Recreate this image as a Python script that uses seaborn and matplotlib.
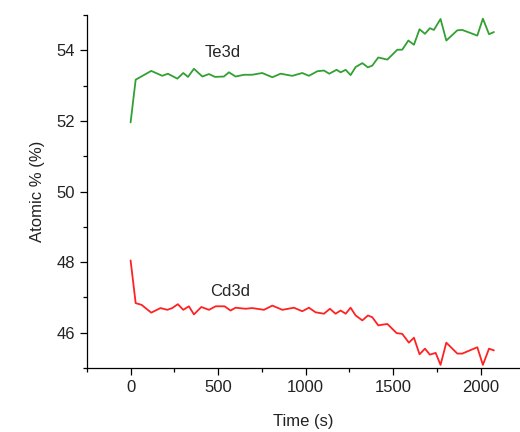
import pandas as pd
import numpy as np
import matplotlib
matplotlib.use('Agg')
import matplotlib.pyplot as plt
from matplotlib.ticker import MultipleLocator
import seaborn as sns

sns.set_style('ticks')
plt.rcParams['font.family'] = ['Liberation Sans', 'DejaVu Sans']

# 시간 (s)
time_te = [0, 29, 118, 181, 213, 267, 301, 328, 362, 410, 448, 482, 533, 562, 600,
           648, 695, 752, 810, 857, 924, 981, 1019, 1067, 1105, 1135, 1177, 1200,
           1229, 1257, 1286, 1324, 1356, 1381, 1415, 1467, 1524, 1552, 1587, 1619,
           1651, 1682, 1710, 1733, 1771, 1804, 1867, 1895, 1981, 2013, 2048, 2076]
te3d = [51.96, 53.17, 53.42, 53.28, 53.34, 53.20, 53.36, 53.25, 53.48, 53.26, 53.33,
        53.25, 53.26, 53.38, 53.26, 53.31, 53.31, 53.36, 53.24, 53.34, 53.28, 53.36,
        53.28, 53.41, 53.43, 53.34, 53.45, 53.38, 53.45, 53.30, 53.53, 53.64, 53.52,
        53.57, 53.80, 53.74, 54.02, 54.02, 54.28, 54.16, 54.60, 54.47, 54.63, 54.58,
        54.89, 54.28, 54.57, 54.58, 54.42, 54.90, 54.46, 54.52]

time_cd = [0, 29, 63, 118, 171, 210, 238, 270, 301, 333, 362, 404, 448, 486, 537,
           571, 600, 657, 695, 762, 810, 867, 933, 981, 1019, 1057, 1105, 1139, 1171,
           1200, 1229, 1257, 1286, 1324, 1356, 1381, 1415, 1467, 1520, 1552, 1590,
           1619, 1651, 1682, 1710, 1743, 1771, 1804, 1867, 1895, 1981, 2013, 2048, 2076]
cd3d = [48.05, 46.84, 46.79, 46.57, 46.70, 46.65, 46.70, 46.81, 46.65, 46.75, 46.52,
        46.73, 46.65, 46.75, 46.75, 46.63, 46.71, 46.68, 46.70, 46.65, 46.77, 46.65,
        46.71, 46.61, 46.71, 46.58, 46.54, 46.68, 46.54, 46.63, 46.54, 46.71, 46.49,
        46.35, 46.49, 46.44, 46.21, 46.25, 45.99, 45.97, 45.72, 45.86, 45.39, 45.55,
        45.38, 45.43, 45.09, 45.72, 45.41, 45.41, 45.59, 45.09, 45.55, 45.50]

df = pd.concat([
    pd.DataFrame({'time': time_te, 'atomic': te3d, 'element': 'Te3d'}),
    pd.DataFrame({'time': time_cd, 'atomic': cd3d, 'element': 'Cd3d'}),
], ignore_index=True)

fig = plt.figure(figsize=(5.2, 4.32), dpi=100)
ax = fig.add_axes([0.167, 0.148, 0.833, 0.817])

sns.lineplot(data=df, x='time', y='atomic', hue='element', sort=False,
             palette={'Te3d': '#32a032', 'Cd3d': '#ff2222'},
             linewidth=1.3, legend=False, ax=ax)

ax.text(528, 53.93, 'Te3d', ha='center', va='center', fontsize=12)
ax.text(568, 47.16, 'Cd3d', ha='center', va='center', fontsize=12)

ax.set_xlim(-250, 2225)
ax.set_ylim(45, 55)
ax.xaxis.set_major_locator(MultipleLocator(500))
ax.xaxis.set_minor_locator(MultipleLocator(250))
ax.yaxis.set_major_locator(MultipleLocator(2))
ax.yaxis.set_minor_locator(MultipleLocator(1))
ax.tick_params(which='both', direction='out', labelsize=12, width=0.9,
               color='black', labelcolor='#222222')
ax.tick_params(which='major', length=5)
ax.tick_params(which='minor', length=3)
sns.despine(ax=ax)
for s in ['left', 'bottom']:
    ax.spines[s].set_linewidth(0.9)
    ax.spines[s].set_color('black')

ax.set_xlabel('Time (s)', fontsize=12, color='#222222', labelpad=14)
ax.set_ylabel('Atomic % (%)', fontsize=12, color='#222222', labelpad=8)

fig.savefig('out.png', dpi=100)
